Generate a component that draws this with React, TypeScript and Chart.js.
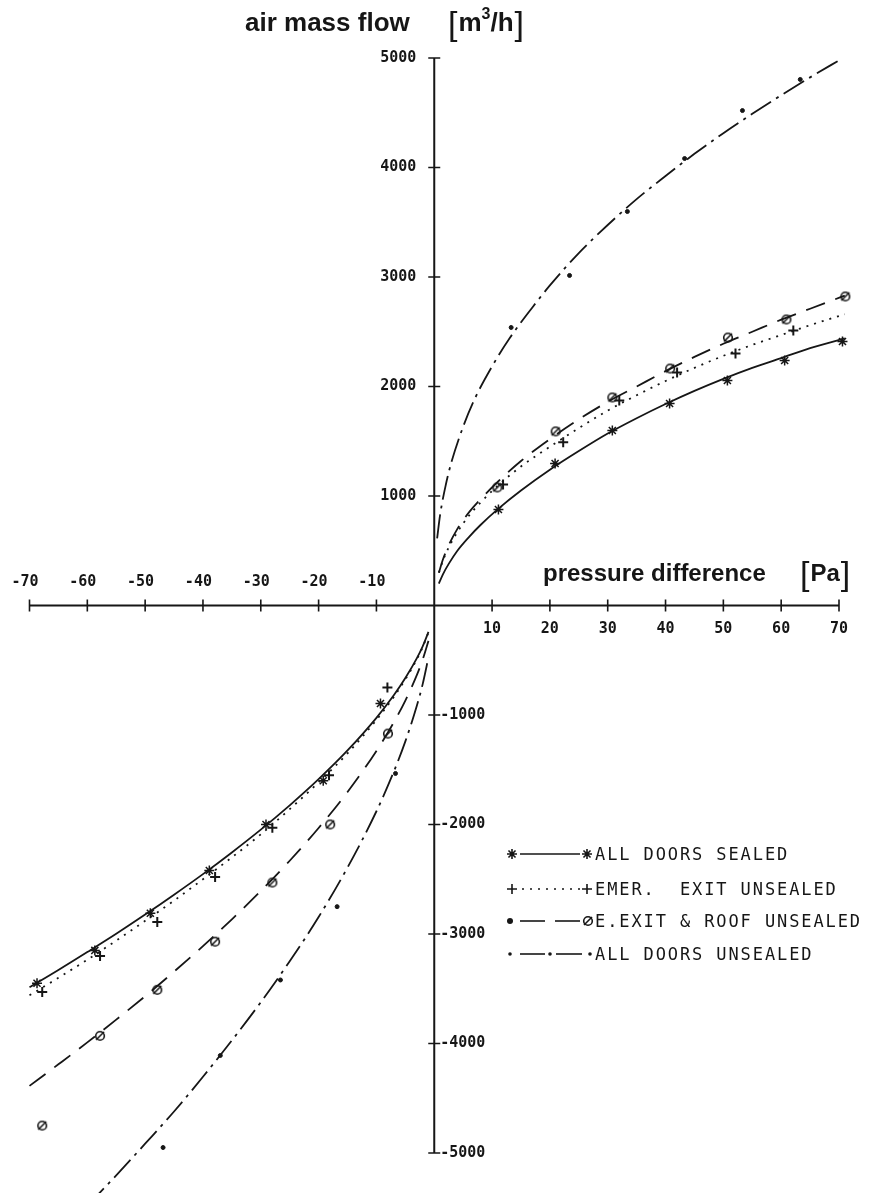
import React, { useEffect, useRef } from "react";
import { Chart, registerables } from "chart.js";

Chart.register(...registerables);

const W = 877;
const H = 1193;

// Axis ticks
const pressureTicks = [-70, -60, -50, -40, -30, -20, -10, 10, 20, 30, 40, 50, 60, 70];
const flowTicks = [5000, 4000, 3000, 2000, 1000, -1000, -2000, -3000, -4000, -5000];

// Legend entries
const seriesNames = [
  "ALL DOORS SEALED",
  "EMER.  EXIT UNSEALED",
  "E.EXIT & ROOF UNSEALED",
  "ALL DOORS UNSEALED",
];

// Measured points: pressure difference [Pa] / air mass flow [m3/h]
const sealedPa = [11.1, 20.9, 30.8, 40.7, 50.7, 60.6, 70.6, -9.3, -19.2, -29.1, -38.9, -49.1, -58.7, -68.7];
const sealedFlow = [877, 1297, 1598, 1845, 2055, 2237, 2411, -895, -1600, -2000, -2420, -2810, -3150, -3450];

const emerPa = [11.9, 22.3, 32.0, 42.0, 52.1, 62.1, 72.1, -8.1, -18.2, -28.0, -37.9, -47.9, -57.8, -67.8];
const emerFlow = [1105, 1490, 1872, 2128, 2301, 2511, 2667, -749, -1550, -2030, -2480, -2890, -3200, -3530];

const exitPa = [10.9, 21.0, 30.8, 40.8, 50.8, 60.9, 71.1, -8.0, -18.0, -28.0, -37.9, -47.9, -57.8, -67.8];
const exitFlow = [1078, 1590, 1900, 2164, 2447, 2612, 2822, -1170, -2000, -2530, -3070, -3510, -3930, -4750];

const unsealedPa = [13.3, 23.4, 33.4, 43.3, 53.3, 63.3, -6.7, -16.8, -26.6, -37.0, -46.9];
const unsealedFlow = [2539, 3014, 3598, 4082, 4520, 4804, -1534, -2750, -3420, -4110, -4950];

// Fitted curves
const curvePaPos = [0.8, 1.5, 2.5, 4, 6, 8, 11, 15, 20, 25, 30, 35, 40, 45, 50, 55, 60, 65, 71];
const curvePaNeg = [-70, -65, -60, -55, -50, -45, -40, -35, -30, -25, -20, -15, -10, -7, -5, -3, -2, -1];

const sealedCurvePos = [200, 285, 380, 500, 625, 735, 880, 1050, 1240, 1410, 1570, 1710, 1840, 1960, 2070, 2170, 2260, 2350, 2440];
const sealedCurveNeg = [-3487, -3329, -3165, -2998, -2823, -2641, -2453, -2255, -2047, -1825, -1586, -1324, -1026, -820, -663, -481, -373, -241];

const emerCurvePos = [300, 410, 530, 670, 820, 940, 1095, 1270, 1450, 1620, 1780, 1920, 2050, 2170, 2280, 2380, 2470, 2560, 2660];
const emerCurveNeg = [-3560, -3400, -3235, -3060, -2880, -2695, -2500, -2300, -2090, -1860, -1615, -1350, -1045, -835, -675, -490, -380, -245];

const exitCurvePos = [300, 420, 550, 700, 850, 970, 1130, 1320, 1520, 1700, 1860, 2000, 2140, 2270, 2390, 2500, 2610, 2710, 2830];
const exitCurveNeg = [-4387, -4190, -3990, -3782, -3568, -3344, -3111, -2866, -2607, -2331, -2032, -1703, -1328, -1067, -868, -634, -494, -323];

const unsealedCurvePaPos = [0.5, 1, 2, 3, 5, 7, 10, 13, 17, 20, 25, 30, 35, 40, 45, 50, 55, 60, 65, 70.5];
const unsealedCurvePos = [614, 824, 1103, 1314, 1633, 1887, 2184, 2438, 2724, 2923, 3219, 3475, 3711, 3922, 4125, 4313, 4490, 4660, 4823, 4994];
const unsealedCurvePaNeg = [-60, -55, -50, -45, -40, -35, -30, -25, -20, -15, -10, -7, -5, -3, -2, -1];
const unsealedCurveNeg = [-5482, -5204, -4915, -4621, -4304, -3972, -3623, -3249, -2845, -2393, -1879, -1518, -1241, -914, -718, -474];

const INK = "#161616";
const SOLID: number[] = [];
const DOTTED = [2, 6];
const DASHED = [20, 11];
const DASH_DOT = [24, 6, 3, 6];

const pts = (xs: number[], ys: number[]) => xs.map((x, i) => ({ x, y: ys[i] }));

function slashedCircle(): HTMLCanvasElement {
  const c = document.createElement("canvas");
  c.width = 14;
  c.height = 14;
  const g = c.getContext("2d")!;
  g.strokeStyle = INK;
  g.lineWidth = 1.6;
  g.beginPath();
  g.arc(7, 7, 4.3, 0, Math.PI * 2);
  g.stroke();
  g.beginPath();
  g.moveTo(3, 11);
  g.lineTo(11, 3);
  g.stroke();
  return c;
}

function drawStar(ctx: CanvasRenderingContext2D, x: number, y: number, r: number) {
  ctx.beginPath();
  for (let k = 0; k < 4; k++) {
    const a = (k * Math.PI) / 4;
    ctx.moveTo(x - r * Math.cos(a), y - r * Math.sin(a));
    ctx.lineTo(x + r * Math.cos(a), y + r * Math.sin(a));
  }
  ctx.stroke();
}

function drawCross(ctx: CanvasRenderingContext2D, x: number, y: number, r: number) {
  ctx.beginPath();
  ctx.moveTo(x - r, y);
  ctx.lineTo(x + r, y);
  ctx.moveTo(x, y - r);
  ctx.lineTo(x, y + r);
  ctx.stroke();
}

function drawDot(ctx: CanvasRenderingContext2D, x: number, y: number, r: number) {
  ctx.beginPath();
  ctx.arc(x, y, r, 0, Math.PI * 2);
  ctx.fill();
}

function drawSeg(ctx: CanvasRenderingContext2D, x1: number, x2: number, y: number, dash: number[]) {
  ctx.save();
  ctx.setLineDash(dash);
  ctx.beginPath();
  ctx.moveTo(x1, y);
  ctx.lineTo(x2, y);
  ctx.stroke();
  ctx.restore();
}

// Axis lines crossing at the origin, with through-ticks
const axesPlugin = {
  id: "crossAxes",
  beforeDatasetsDraw(chart: any) {
    const { ctx, scales } = chart;
    const sx = scales.x;
    const sy = scales.y;
    const x0 = sx.getPixelForValue(0);
    const y0 = sy.getPixelForValue(0);
    ctx.save();
    ctx.strokeStyle = INK;
    ctx.lineWidth = 2;
    ctx.beginPath();
    ctx.moveTo(sx.getPixelForValue(pressureTicks[0]), y0);
    ctx.lineTo(sx.getPixelForValue(pressureTicks[pressureTicks.length - 1]), y0);
    ctx.moveTo(x0, sy.getPixelForValue(flowTicks[0]));
    ctx.lineTo(x0, sy.getPixelForValue(flowTicks[flowTicks.length - 1]));
    ctx.stroke();
    ctx.lineWidth = 1.6;
    ctx.beginPath();
    pressureTicks.forEach((v) => {
      const px = sx.getPixelForValue(v);
      ctx.moveTo(px, y0 - 6);
      ctx.lineTo(px, y0 + 6);
    });
    flowTicks.forEach((v) => {
      const py = sy.getPixelForValue(v);
      ctx.moveTo(x0 - 6, py);
      ctx.lineTo(x0 + 6, py);
    });
    ctx.stroke();

    // tick labels
    ctx.fillStyle = INK;
    ctx.font = 'bold 15px "DejaVu Sans Mono"';
    ctx.textBaseline = "middle";
    flowTicks.forEach((v) => {
      const py = sy.getPixelForValue(v);
      if (v > 0) {
        ctx.textAlign = "right";
        ctx.fillText(String(v), x0 - 18, py);
      } else {
        ctx.textAlign = "left";
        ctx.fillText(String(v), x0 + 6, py);
      }
    });
    ctx.textAlign = "right";
    pressureTicks.forEach((v) => {
      const px = sx.getPixelForValue(v);
      if (v < 0) {
        ctx.fillText(String(v), px + 9, y0 - 23);
      } else {
        ctx.fillText(String(v), px + 9, y0 + 24);
      }
    });
    ctx.restore();
  },
};

// Axis titles and the legend box
const textPlugin = {
  id: "titlesAndKey",
  afterDraw(chart: any) {
    const { ctx } = chart;
    ctx.save();
    ctx.fillStyle = INK;
    ctx.strokeStyle = INK;
    ctx.textAlign = "left";
    ctx.textBaseline = "alphabetic";

    // vertical axis title
    ctx.font = 'bold 26px "Liberation Sans"';
    ctx.fillText("air mass flow", 245, 31);
    let cx = 448;
    ctx.font = '34px "Liberation Sans"';
    ctx.fillText("[", cx, 35);
    cx += ctx.measureText("[").width + 1;
    ctx.font = 'bold 26px "Liberation Sans"';
    ctx.fillText("m", cx, 31);
    cx += ctx.measureText("m").width;
    ctx.font = 'bold 16px "Liberation Sans"';
    ctx.fillText("3", cx, 19);
    cx += ctx.measureText("3").width;
    ctx.font = 'bold 26px "Liberation Sans"';
    ctx.fillText("/h", cx, 31);
    cx += ctx.measureText("/h").width + 1;
    ctx.font = '34px "Liberation Sans"';
    ctx.fillText("]", cx, 35);

    // horizontal axis title
    ctx.font = 'bold 24px "Liberation Sans"';
    ctx.fillText("pressure difference", 543, 581);
    let px = 800;
    ctx.font = '34px "Liberation Sans"';
    ctx.fillText("[", px, 585);
    px += ctx.measureText("[").width + 1;
    ctx.font = 'bold 24px "Liberation Sans"';
    ctx.fillText("Pa", px, 581);
    px += ctx.measureText("Pa").width + 1;
    ctx.font = '34px "Liberation Sans"';
    ctx.fillText("]", px, 585);

    // legend
    const rows = [860, 895, 927, 960];
    const ring = slashedCircle();
    ctx.lineWidth = 1.6;
    rows.forEach((base, i) => {
      const c = base - 6;
      if (i === 0) {
        drawStar(ctx, 512, c, 5);
        drawSeg(ctx, 520, 580, c, SOLID);
        drawStar(ctx, 587, c, 5);
      } else if (i === 1) {
        drawCross(ctx, 512, c, 5);
        drawSeg(ctx, 522, 580, c, DOTTED);
        drawCross(ctx, 587, c, 5);
      } else if (i === 2) {
        drawDot(ctx, 510, c, 3);
        drawSeg(ctx, 520, 545, c, SOLID);
        drawSeg(ctx, 555, 580, c, SOLID);
        ctx.drawImage(ring, 588 - 7, c - 7);
      } else {
        drawDot(ctx, 510, c, 1.8);
        drawSeg(ctx, 520, 545, c, SOLID);
        drawDot(ctx, 550, c, 1.8);
        drawSeg(ctx, 556, 582, c, SOLID);
        drawDot(ctx, 590, c, 1.8);
      }
      ctx.font = '17px "DejaVu Sans Mono"';
      (ctx as any).letterSpacing = "1.9px";
      ctx.fillText(seriesNames[i], 595, base);
      (ctx as any).letterSpacing = "0px";
    });
    ctx.restore();
  },
};

function curve(label: string, xs: number[], ys: number[], dash: number[]) {
  return {
    label,
    data: pts(xs, ys),
    showLine: true,
    pointRadius: 0,
    borderColor: INK,
    borderWidth: 1.8,
    borderDash: dash,
    cubicInterpolationMode: "monotone" as const,
    fill: false,
    clip: false as const,
  };
}

function marks(label: string, xs: number[], ys: number[], style: any, radius: number, bw: number) {
  return {
    label,
    data: pts(xs, ys),
    showLine: false,
    pointStyle: style,
    pointRadius: radius,
    pointBorderWidth: bw,
    pointBorderColor: INK,
    pointBackgroundColor: INK,
    clip: false as const,
  };
}

export default function App() {
  const ref = useRef<HTMLCanvasElement | null>(null);

  useEffect(() => {
    if (!ref.current) return;
    const ring = slashedCircle();
    const chart = new Chart(ref.current, {
      type: "scatter",
      data: {
        datasets: [
          curve(seriesNames[0], curvePaPos, sealedCurvePos, SOLID),
          curve(seriesNames[0], curvePaNeg, sealedCurveNeg, SOLID),
          curve(seriesNames[1], curvePaPos, emerCurvePos, DOTTED),
          curve(seriesNames[1], curvePaNeg, emerCurveNeg, DOTTED),
          curve(seriesNames[2], curvePaPos, exitCurvePos, DASHED),
          curve(seriesNames[2], curvePaNeg, exitCurveNeg, DASHED),
          curve(seriesNames[3], unsealedCurvePaPos, unsealedCurvePos, DASH_DOT),
          curve(seriesNames[3], unsealedCurvePaNeg, unsealedCurveNeg, DASH_DOT),
          marks(seriesNames[0], sealedPa, sealedFlow, "star", 5, 1.5),
          marks(seriesNames[1], emerPa, emerFlow, "cross", 5, 2),
          marks(seriesNames[2], exitPa, exitFlow, ring, 5, 1.5),
          marks(seriesNames[3], unsealedPa, unsealedFlow, "circle", 2, 1),
        ] as any,
      },
      options: {
        animation: false,
        responsive: false,
        devicePixelRatio: 1,
        events: [],
        layout: { padding: { left: 29.5, right: 38, top: 58, bottom: 40 } },
        scales: {
          x: { type: "linear", min: -70, max: 70, display: false },
          y: { type: "linear", min: -5000, max: 5000, display: false },
        },
        plugins: {
          legend: { display: false },
          tooltip: { enabled: false },
        },
      },
      plugins: [axesPlugin, textPlugin],
    });
    return () => chart.destroy();
  }, []);

  return (
    <div style={{ position: "fixed", left: 0, top: 0, width: W, height: H, background: "#fff" }}>
      <canvas ref={ref} width={W} height={H} style={{ display: "block", width: W, height: H }} />
    </div>
  );
}
